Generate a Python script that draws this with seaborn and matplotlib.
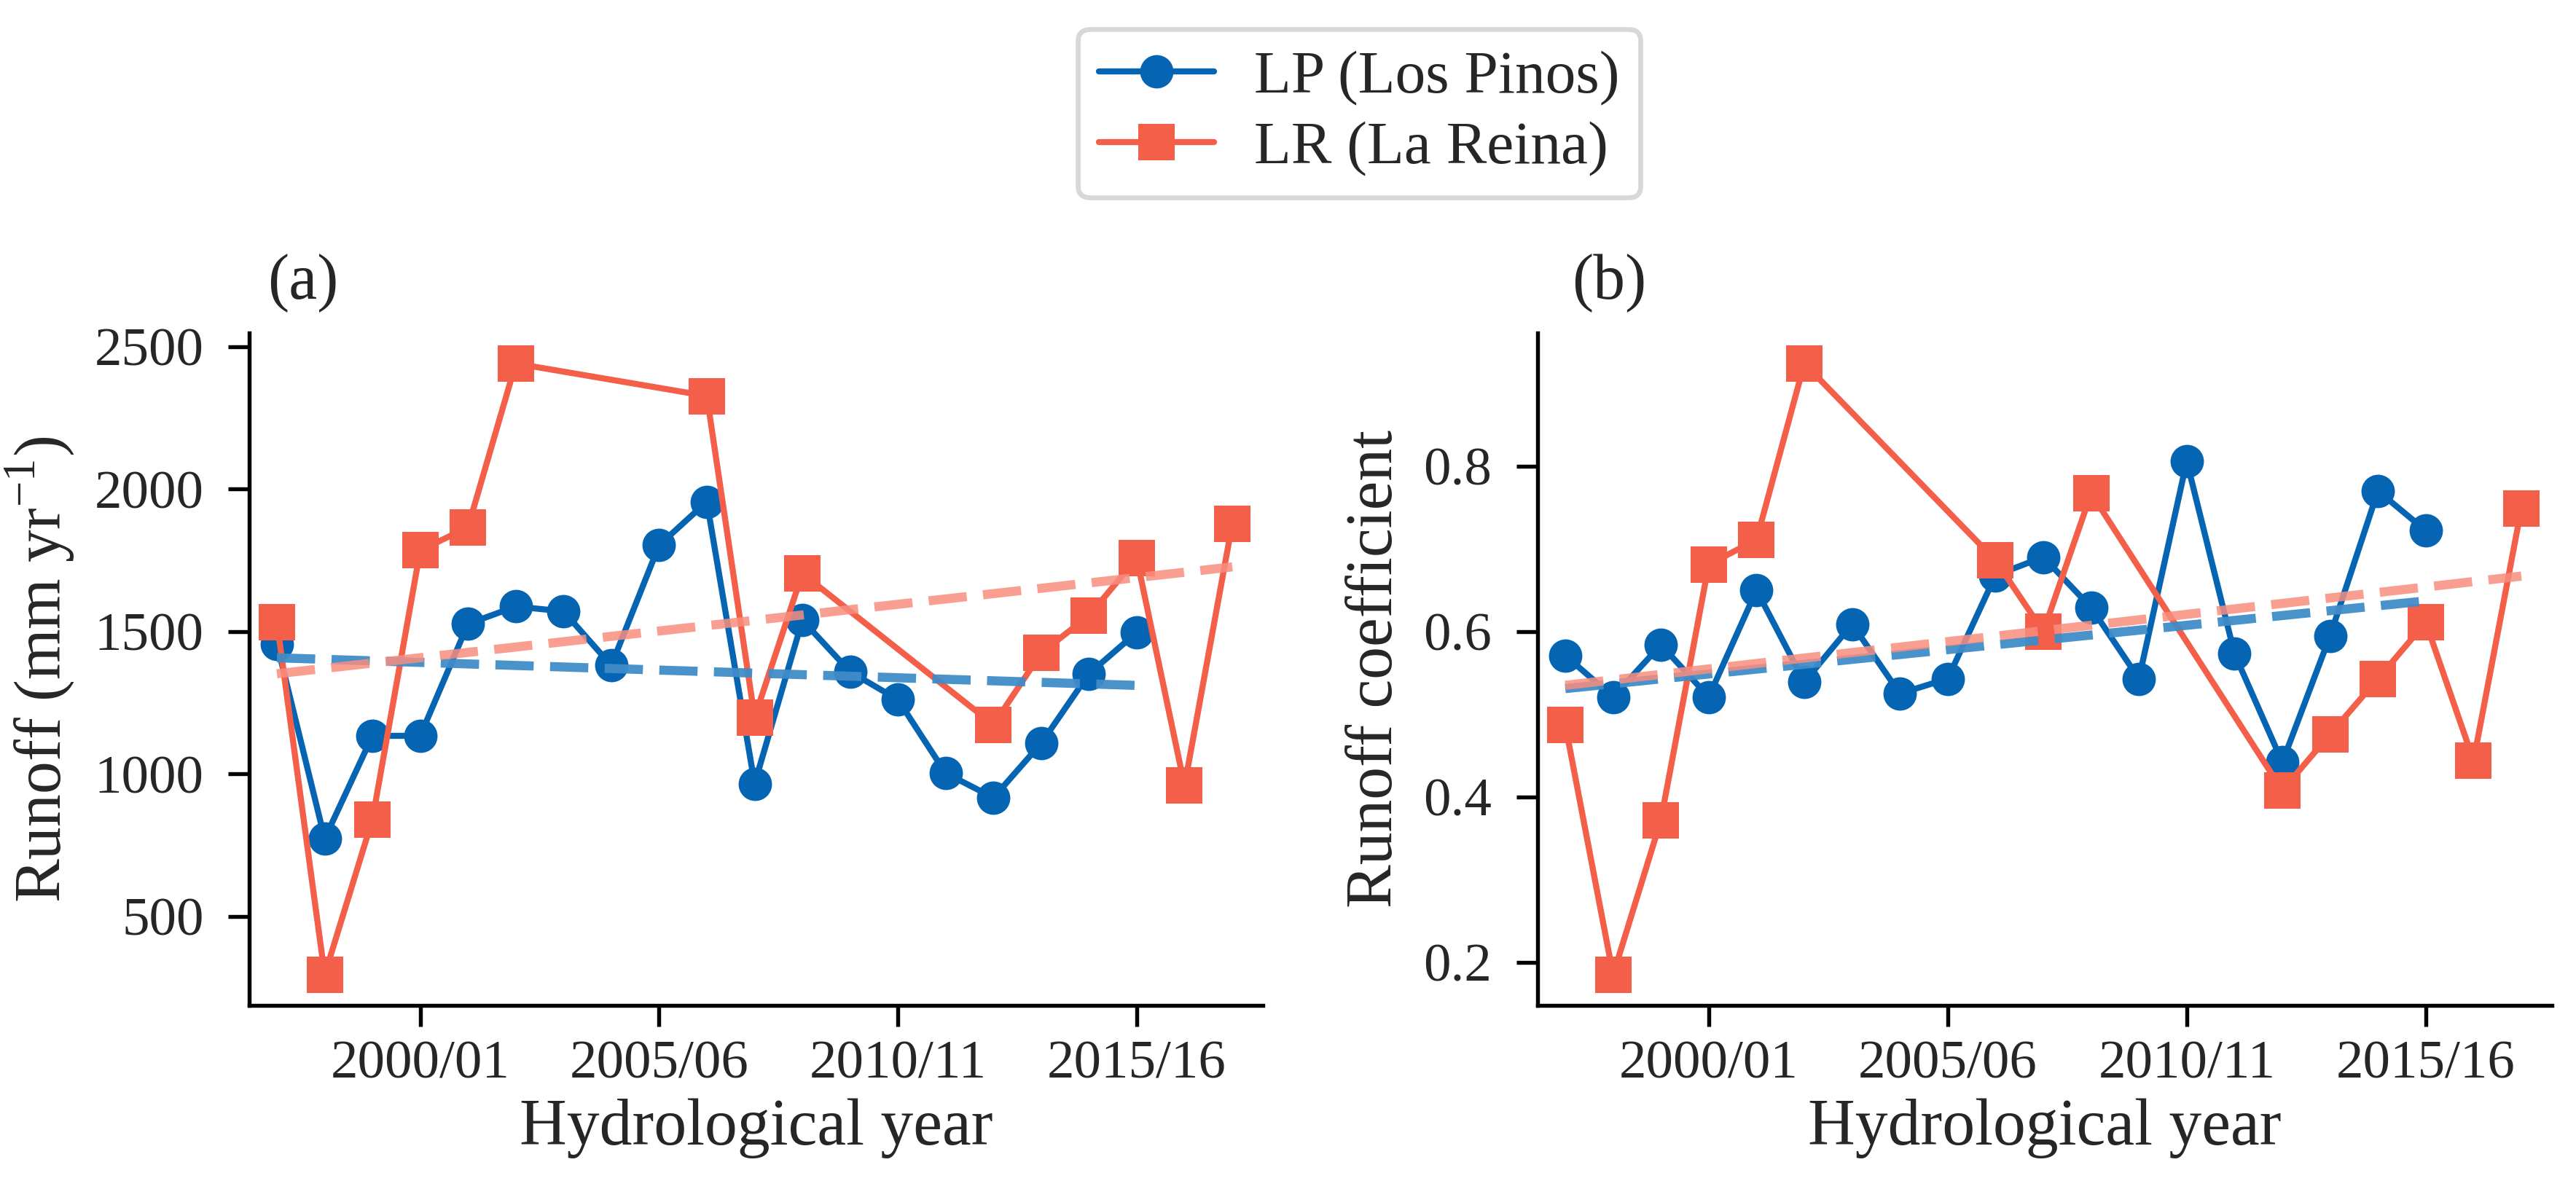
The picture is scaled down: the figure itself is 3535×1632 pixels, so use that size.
import matplotlib
matplotlib.use("Agg")
import matplotlib.pyplot as plt
import seaborn as sns
from matplotlib.lines import Line2D

# ---------------- data ----------------
lp_years = list(range(1997, 2016))
lp_runoff = [1457, 773, 1134, 1134, 1527, 1588, 1571, 1381, 1803, 1956,
             966, 1540, 1359, 1261, 1003, 917, 1108, 1352, 1497]
lp_coef = [0.571, 0.521, 0.584, 0.521, 0.650, 0.539, 0.609, 0.525, 0.543, 0.668,
           0.690, 0.629, 0.543, 0.806, 0.573, 0.442, 0.595, 0.770, 0.722]

lr_years = [1997, 1998, 1999, 2000, 2001, 2002, 2006, 2007, 2008,
            2012, 2013, 2014, 2015, 2016, 2017]
lr_runoff = [1534, 295, 841, 1785, 1866, 2441, 2327, 1199, 1704,
             1173, 1425, 1556, 1757, 959, 1879]
lr_coef = [0.487, 0.185, 0.372, 0.681, 0.711, 0.924, 0.686, 0.600, 0.767,
           0.408, 0.476, 0.543, 0.611, 0.444, 0.749]

# trend lines (end points)
lp_trend_years = [1997, 2015]
lr_trend_years = [1997, 2017]
lp_trend_runoff = [1408, 1311]
lr_trend_runoff = [1352, 1727]
lp_trend_coef = [0.531, 0.637]
lr_trend_coef = [0.535, 0.667]

tick_years = [2000, 2005, 2010, 2015]
tick_labels = ["2000/01", "2005/06", "2010/11", "2015/16"]

# ---------------- style ----------------
sns.set_theme(style="ticks")
plt.rcParams['font.family'] = ['Liberation Serif', 'DejaVu Serif']
plt.rcParams['mathtext.fontset'] = 'custom'
plt.rcParams['mathtext.rm'] = 'Liberation Serif'

BLUE = "#0565b2"
RED = "#f45f4a"
BLUE_T = "#3f8cc8"
RED_T = "#f88e7f"

fig = plt.figure(figsize=(3535 / 300, 1632 / 300), dpi=300)
ax_a = fig.add_axes([342 / 3535, 1 - 1380 / 1632, (1733 - 342) / 3535, (1380 - 457) / 1632])
ax_b = fig.add_axes([2110 / 3535, 1 - 1380 / 1632, (3502 - 2110) / 3535, (1380 - 457) / 1632])

panels = [
    (ax_a, lp_runoff, lr_runoff, lp_trend_runoff, lr_trend_runoff, "Runoff (mm yr$^{-1}$)", "(a)", 0.018),
    (ax_b, lp_coef, lr_coef, lp_trend_coef, lr_trend_coef, "Runoff coefficient", "(b)", 0.034),
]

for ax, lp_v, lr_v, lp_t, lr_t, ylab, tag, tx in panels:
    sns.lineplot(x=lp_trend_years, y=lp_t, ax=ax, color=BLUE_T, lw=3.0,
                 linestyle=(0, (4.2, 1.8)), alpha=0.95, zorder=4)
    sns.lineplot(x=lr_trend_years, y=lr_t, ax=ax, color=RED_T, lw=3.0,
                 linestyle=(0, (4.2, 1.8)), alpha=0.85, zorder=4)
    sns.lineplot(x=lp_years, y=lp_v, ax=ax, color=BLUE, lw=2.0, marker='o',
                 markersize=11, markeredgewidth=0, zorder=3)
    sns.lineplot(x=lr_years, y=lr_v, ax=ax, color=RED, lw=2.0, marker='s',
                 markersize=12, markeredgewidth=0, zorder=3)

    ax.set_xlim(1996.42, 2017.64)
    ax.set_xticks(tick_years)
    ax.set_xticklabels(tick_labels)
    ax.set_xlabel("Hydrological year", fontsize=21.5, labelpad=3)
    ax.set_ylabel(ylab, fontsize=21.5, labelpad=6)
    ax.tick_params(axis='both', labelsize=18, length=7, width=1.3, color='black')
    ax.tick_params(axis='x', pad=4.5)
    ax.tick_params(axis='y', pad=8)
    for s in ['left', 'bottom']:
        ax.spines[s].set_linewidth(1.3)
        ax.spines[s].set_color('black')
    sns.despine(ax=ax)
    ax.text(tx, 1.03, tag, transform=ax.transAxes, fontsize=21, va='bottom', ha='left')

ax_a.set_yticks([500, 1000, 1500, 2000, 2500])
ax_b.set_yticks([0.2, 0.4, 0.6, 0.8])
ax_b.set_yticklabels(["0.2", "0.4", "0.6", "0.8"])

handles = [
    Line2D([], [], color=BLUE, lw=2.0, marker='o', markersize=11, markeredgewidth=0),
    Line2D([], [], color=RED, lw=2.0, marker='s', markersize=12, markeredgewidth=0),
]
leg = fig.legend(handles, ["LP (Los Pinos)", "LR (La Reina)"], loc='center',
                 bbox_to_anchor=(0.5276, 0.9047), fontsize=20, frameon=True,
                 fancybox=True, labelspacing=0.25, handlelength=1.9,
                 borderpad=0.35, handletextpad=0.65, borderaxespad=0)
leg.get_frame().set_edgecolor('#cfcfcf')
leg.get_frame().set_linewidth(1.6)

fig.savefig("out.png", dpi=300)
